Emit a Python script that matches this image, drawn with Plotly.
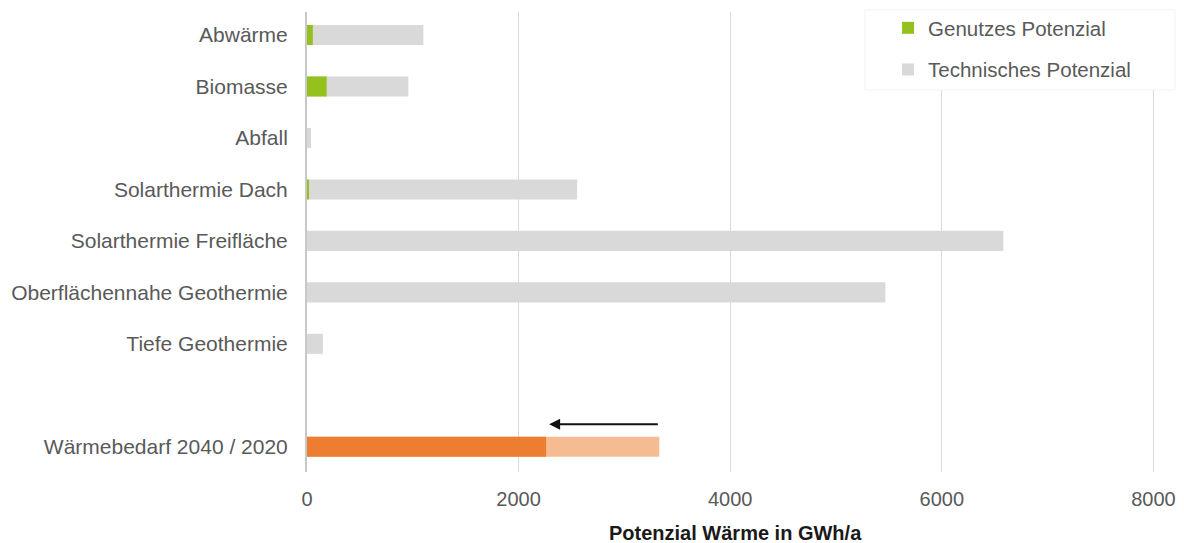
import plotly.graph_objects as go

# Heat potentials per source (GWh/a)
sources = [
    "Abwärme",
    "Biomasse",
    "Abfall",
    "Solarthermie Dach",
    "Solarthermie Freifläche",
    "Oberflächennahe Geothermie",
    "Tiefe Geothermie",
]
technical_potential = [1100, 958, 38, 2553, 6582, 5466, 150]
used_potential = [55, 186, 0, 14, 0, 0, 0]

# Heat demand (GWh/a)
demand_label = "Wärmebedarf 2040 / 2020"
demand_2040 = 2260
demand_2020 = 3330

x_ticks = [0, 2000, 4000, 6000, 8000]

source_pos = list(range(len(sources)))
demand_pos = len(sources) + 1  # one empty row between sources and demand

GREEN = "#95c11f"
GRAY = "#d9d9d9"
ORANGE = "#ed7d31"
ORANGE_LIGHT = "#f5bc92"
TEXT = "#595959"
FONT = "Liberation Sans"

fig = go.Figure()

fig.add_trace(go.Bar(
    y=source_pos, x=technical_potential, orientation="h",
    name="Technisches Potenzial", marker=dict(color=GRAY, line=dict(width=0)),
    width=0.39, legendgroup="tech", legendrank=2, hoverinfo="x+name",
))
fig.add_trace(go.Bar(
    y=source_pos, x=used_potential, orientation="h",
    name="Genutzes Potenzial", marker=dict(color=GREEN, line=dict(width=0)),
    width=0.39, legendgroup="used", legendrank=1, hoverinfo="x+name",
))
fig.add_trace(go.Bar(
    y=[demand_pos], x=[demand_2020], orientation="h", name="Wärmebedarf 2020",
    marker=dict(color=ORANGE_LIGHT, line=dict(width=0)), width=0.39,
    showlegend=False,
))
fig.add_trace(go.Bar(
    y=[demand_pos], x=[demand_2040], orientation="h", name="Wärmebedarf 2040",
    marker=dict(color=ORANGE, line=dict(width=0)), width=0.39,
    showlegend=False,
))

# Arrow from the 2020 demand back to the 2040 demand
fig.add_annotation(
    x=demand_2040, y=demand_pos - 0.44, ax=demand_2020, ay=demand_pos - 0.44,
    xref="x", yref="y", axref="x", ayref="y",
    text="", showarrow=True, arrowhead=2, arrowsize=1.1, arrowwidth=2,
    arrowcolor="#111111", standoff=3,
)

# White box behind the legend
fig.add_shape(
    type="rect", xref="paper", yref="paper",
    x0=0.651, x1=1.0128, y0=0.8233, y1=0.9957,
    fillcolor="white", line=dict(color="#f3f3f3", width=1), layer="above",
)

# Axis title placed below the tick labels
fig.add_annotation(
    text="<b>Potenzial Wärme in GWh/a</b>", xref="paper", yref="paper",
    x=0.5, y=0, yshift=-61, xanchor="center", yanchor="middle",
    showarrow=False, font=dict(family=FONT, size=20, color="#1a1a1a"),
)

fig.update_layout(
    width=1184, height=543,
    margin=dict(l=307, r=20, t=8, b=71),
    paper_bgcolor="white", plot_bgcolor="white",
    barmode="overlay",
    font=dict(family=FONT, size=20, color=TEXT),
    showlegend=True,
    legend=dict(
        x=0.678, xanchor="left", y=1.0, yanchor="top",
        bgcolor="rgba(0,0,0,0)", borderwidth=0,
        font=dict(family=FONT, size=20.5, color=TEXT),
        tracegroupgap=12, traceorder="grouped",
    ),
    xaxis=dict(
        range=[0, 8100], tickvals=x_ticks, ticktext=[str(v) for v in x_ticks],
        showgrid=True, gridcolor="#d9d9d9", gridwidth=1,
        zeroline=False, showline=False, ticks="",
        ticklabelstandoff=13, automargin=False,
        tickfont=dict(family=FONT, size=20, color=TEXT),
    ),
    yaxis=dict(
        domain=[0, 460 / 464],
        range=[8.49, -0.447],
        tickvals=source_pos + [demand_pos],
        ticktext=sources + [demand_label],
        showgrid=False, zeroline=False, automargin=False,
        showline=True, linecolor="#c8c8c8", linewidth=2,
        ticks="", ticklabelstandoff=13,
        tickfont=dict(family=FONT, size=21, color=TEXT),
    ),
)

fig.write_html("out.html")
